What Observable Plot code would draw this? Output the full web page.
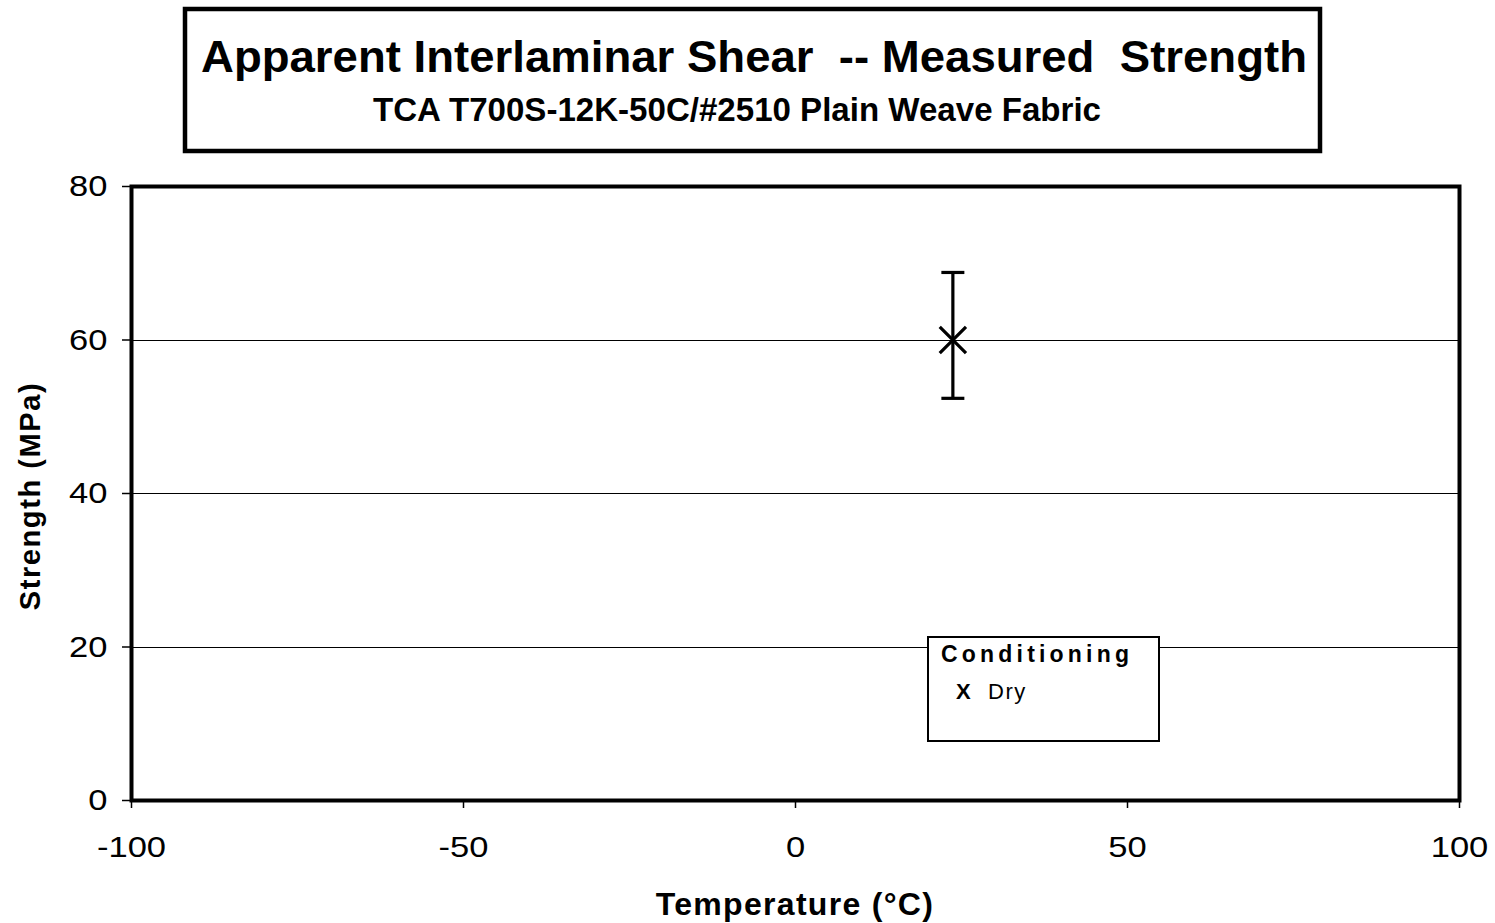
<!DOCTYPE html>
<html>
<head>
<meta charset="utf-8">
<script src="https://cdn.jsdelivr.net/npm/d3@7"></script>
<script src="https://cdn.jsdelivr.net/npm/@observablehq/plot@0.6"></script>
<style>
  html, body { margin: 0; padding: 0; background: #fff; }
  #wrap { position: relative; width: 1495px; height: 923px; font-family: "Liberation Sans", Arial, sans-serif; }
  #wrap svg { position: absolute; left: 0; top: 0; }
</style>
</head>
<body>
<div id="wrap"></div>
<script>
// Apparent interlaminar shear strength, dry condition
const conditions = ["Dry"];
const temperature = [23.7];       // °C
const strength = [60.0];          // MPa, mean
const strengthLow = [52.4];       // MPa, lower error bar
const strengthHigh = [68.8];      // MPa, upper error bar
const xTicks = [-100, -50, 0, 50, 100];
const yTicks = [0, 20, 40, 60, 80];
const gridValues = [20, 40, 60];

const titleText = "Apparent Interlaminar Shear  -- Measured  Strength";
const subtitleText = "TCA T700S-12K-50C/#2510 Plain Weave Fabric";
const xLabel = "Temperature (°C)";
const yLabel = "Strength (MPa)";
const legendTitle = "Conditioning";

const rows = conditions.map((c, i) => ({
  condition: c, temp: temperature[i], s: strength[i], lo: strengthLow[i], hi: strengthHigh[i]
}));

// horizontal cap used at both ends of the error bar
const capSymbol = {
  draw(ctx, size) {
    const r = Math.sqrt(size / Math.PI);
    ctx.moveTo(-r, 0);
    ctx.lineTo(r, 0);
  }
};

const font = '"Liberation Sans", Arial, sans-serif';

const chart = Plot.plot({
  width: 1495,
  height: 923,
  marginLeft: 131,
  marginRight: 36,
  marginTop: 186,
  marginBottom: 123,
  style: { fontFamily: font, background: "transparent", overflow: "visible" },
  x: { domain: [-100, 100], ticks: xTicks },
  y: { domain: [0, 80], ticks: yTicks },
  marks: [
    Plot.ruleY(gridValues, { stroke: "#000", strokeWidth: 1, shapeRendering: "crispEdges" }),
    Plot.axisX({ ticks: xTicks, tickSize: 8, tickPadding: 27, fontSize: 30, label: null, stroke: "#000", strokeWidth: 1.5, tickFormat: d => String(d) }),
    Plot.axisY({ ticks: yTicks, tickSize: 9, tickPadding: 15, fontSize: 30, label: null, stroke: "#000", strokeWidth: 1.5, tickFormat: d => String(d) }),
    Plot.frame({ stroke: "#000", strokeWidth: 4 }),
    Plot.ruleX(rows, { x: "temp", y1: "lo", y2: "hi", stroke: "#000", strokeWidth: 3.2 }),
    Plot.dot(rows, { x: "temp", y: "lo", symbol: capSymbol, r: 11.5, stroke: "#000", strokeWidth: 3.2, fill: "none" }),
    Plot.dot(rows, { x: "temp", y: "hi", symbol: capSymbol, r: 11.5, stroke: "#000", strokeWidth: 3.2, fill: "none" }),
    Plot.dot(rows, { x: "temp", y: "s", symbol: "times", r: 12, stroke: "#000", strokeWidth: 3.2 })
  ]
});

const wrap = document.getElementById("wrap");
wrap.appendChild(chart);

// tick labels are drawn slightly wide
d3.select(chart).selectAll("g[aria-label='x-axis tick label'] text, g[aria-label='y-axis tick label'] text")
  .each(function () {
    const w = this.getComputedTextLength();
    this.setAttribute("textLength", (w * 1.15).toFixed(1));
    this.setAttribute("lengthAdjust", "spacingAndGlyphs");
  });

// overlay: title box, axis titles and legend
const ov = d3.select(wrap).append("svg")
  .attr("width", 1495).attr("height", 923)
  .style("pointer-events", "none")
  .attr("font-family", font);

ov.append("rect")
  .attr("x", 185).attr("y", 9).attr("width", 1135).attr("height", 142)
  .attr("fill", "#fff").attr("stroke", "#000").attr("stroke-width", 4.5);
ov.append("text")
  .attr("x", 754).attr("y", 72).attr("text-anchor", "middle")
  .attr("font-size", 45).attr("font-weight", "bold")
  .attr("textLength", 1106).attr("lengthAdjust", "spacingAndGlyphs")
  .style("white-space", "pre")
  .text(titleText);
ov.append("text")
  .attr("x", 737).attr("y", 121).attr("text-anchor", "middle")
  .attr("font-size", 33).attr("font-weight", "bold")
  .attr("textLength", 728).attr("lengthAdjust", "spacingAndGlyphs")
  .text(subtitleText);

// axis titles
ov.append("text")
  .attr("x", 795).attr("y", 915).attr("text-anchor", "middle")
  .attr("font-size", 32).attr("font-weight", "bold")
  .attr("letter-spacing", 1.3)
  .text(xLabel);
ov.append("text")
  .attr("transform", "translate(40,496) rotate(-90)")
  .attr("text-anchor", "middle")
  .attr("font-size", 29).attr("font-weight", "bold")
  .attr("letter-spacing", 1.6)
  .text(yLabel);

// legend
const lg = ov.append("g");
lg.append("rect")
  .attr("x", 928).attr("y", 637).attr("width", 231).attr("height", 104)
  .attr("fill", "#fff").attr("stroke", "#000").attr("stroke-width", 2);
lg.append("text")
  .attr("x", 941).attr("y", 662)
  .attr("font-size", 23).attr("font-weight", "bold").attr("letter-spacing", 4.2)
  .text(legendTitle);
conditions.forEach((c, i) => {
  const y = 699 + i * 30;
  lg.append("text").attr("x", 956).attr("y", y)
    .attr("font-size", 22).attr("font-weight", "bold").text("X");
  lg.append("text").attr("x", 988).attr("y", y)
    .attr("font-size", 22).attr("letter-spacing", 1.5).text(c);
});
</script>
</body>
</html>
